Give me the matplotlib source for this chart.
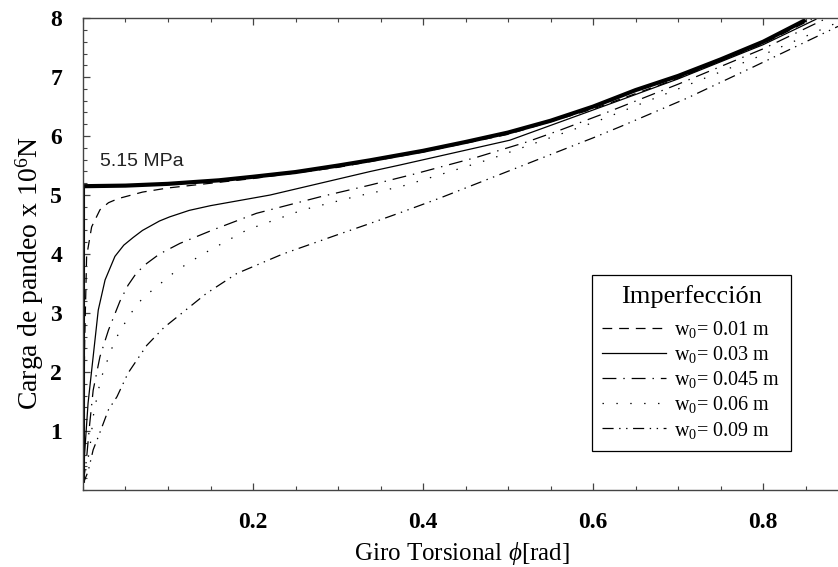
import matplotlib
matplotlib.use("Agg")
import matplotlib.pyplot as plt
from matplotlib.ticker import MultipleLocator, FixedLocator

plt.rcParams['font.family'] = ['Liberation Serif', 'DejaVu Serif']
plt.rcParams['mathtext.fontset'] = 'custom'
plt.rcParams['mathtext.rm'] = 'Liberation Serif'
plt.rcParams['mathtext.it'] = 'Liberation Serif:italic'
plt.rcParams['lines.scale_dashes'] = False

# Perfect column (no imperfection)
phi_perfect = [0, 0, 0.05, 0.1, 0.16, 0.2, 0.25, 0.3, 0.338, 0.4, 0.45, 0.5, 0.55,
               0.6, 0.65, 0.7, 0.75, 0.8, 0.85]
load_perfect = [0.12, 5.15, 5.16, 5.19, 5.25, 5.31, 5.39, 5.5, 5.59, 5.75, 5.9, 6.06, 6.26,
                6.5, 6.78, 7.02, 7.3, 7.6, 7.97]

# Imperfect columns, initial deflection w0
phi_001 = [0, 0.002, 0.0043, 0.0102, 0.02, 0.03, 0.0415, 0.07, 0.1, 0.15, 0.2, 0.3, 0.4,
           0.5, 0.6, 0.7, 0.8, 0.857]
load_001 = [0.12, 2.5, 3.96, 4.46, 4.75, 4.87, 4.94, 5.05, 5.12, 5.2, 5.28, 5.47, 5.73,
            6.03, 6.46, 6.98, 7.57, 7.98]

phi_003 = [0, 0.002, 0.006, 0.012, 0.018, 0.026, 0.0376, 0.048, 0.059, 0.07, 0.08, 0.09,
           0.102, 0.125, 0.15, 0.22, 0.338, 0.373, 0.502, 0.632, 0.7, 0.8, 0.862]
load_003 = [0.1, 0.63, 1.47, 2.26, 3.05, 3.56, 3.96, 4.15, 4.28, 4.4, 4.48, 4.56,
            4.63, 4.74, 4.82, 5.0, 5.4, 5.51, 5.93, 6.61, 6.97, 7.55, 7.98]

phi_0045 = [0, 0.004, 0.008, 0.012, 0.02, 0.03, 0.0435, 0.053, 0.063, 0.075, 0.09, 0.114,
            0.153, 0.204, 0.279, 0.338, 0.388, 0.463, 0.522, 0.561, 0.616, 0.7, 0.8, 0.872]
load_0045 = [0.1, 0.5, 1.13, 1.69, 2.26, 2.71, 3.2, 3.47, 3.68, 3.84, 4.0, 4.18,
             4.41, 4.69, 4.97, 5.17, 5.35, 5.64, 5.9, 6.1, 6.4, 6.88, 7.48, 7.98]

phi_006 = [0, 0.008, 0.012, 0.018, 0.0237, 0.0376, 0.055, 0.07, 0.087, 0.11, 0.141, 0.193,
           0.259, 0.322, 0.373, 0.412, 0.479, 0.553, 0.608, 0.7, 0.8, 0.888]
load_006 = [0.1, 0.68, 1.24, 1.69, 2.0, 2.54, 2.97, 3.25, 3.45, 3.72, 4.0, 4.41,
            4.75, 4.98, 5.14, 5.31, 5.61, 5.99, 6.27, 6.8, 7.38, 7.93]

phi_009 = [0, 0.006, 0.012, 0.018, 0.03, 0.04, 0.053, 0.075, 0.095, 0.114, 0.145, 0.181,
           0.235, 0.298, 0.338, 0.373, 0.42, 0.51, 0.6, 0.632, 0.71, 0.788, 0.859, 0.888]
load_009 = [0.1, 0.31, 0.68, 0.9, 1.36, 1.58, 1.98, 2.45, 2.75, 2.97, 3.33, 3.67,
            4.0, 4.32, 4.52, 4.7, 4.95, 5.46, 5.97, 6.16, 6.64, 7.17, 7.66, 7.86]

labels = ["w$_0$= 0.01 m", "w$_0$= 0.03 m", "w$_0$= 0.045 m", "w$_0$= 0.06 m", "w$_0$= 0.09 m"]
xticks = [0.2, 0.4, 0.6, 0.8]
yticks = [1, 2, 3, 4, 5, 6, 7, 8]

fig = plt.figure(figsize=(8.38, 5.67), dpi=100)
ax = fig.add_axes([0.099, 0.136, 0.901, 0.832])

ax.plot(phi_perfect, load_perfect, color="black", lw=3.0, solid_capstyle="butt")
ax.plot(phi_001, load_001, color="black", lw=0.9, linestyle=(0, (7, 5)), label=labels[0])
ax.plot(phi_003, load_003, color="black", lw=0.9, linestyle="-", label=labels[1])
ax.plot(phi_0045, load_0045, color="black", lw=0.9, linestyle=(0, (10, 5, 1, 5)), label=labels[2])
ax.plot(phi_006, load_006, color="black", lw=0.9, linestyle=(0, (1, 9)), label=labels[3])
ax.plot(phi_009, load_009, color="black", lw=0.9, linestyle=(0, (8, 4, 1, 4, 1, 4)), label=labels[4])

ax.text(0.02, 5.5, "5.15 MPa", family="Liberation Sans", fontsize=14, color="#222222")

ax.set_xlim(0, 0.888)
ax.set_ylim(0, 8)
ax.xaxis.set_major_locator(FixedLocator(xticks))
ax.yaxis.set_major_locator(FixedLocator(yticks))
ax.xaxis.set_minor_locator(MultipleLocator(0.05))
ax.yaxis.set_minor_locator(MultipleLocator(0.2))
ax.tick_params(which="both", direction="in", top=True, right=False, color="#444444")
ax.tick_params(which="major", length=5, width=0.9, labelsize=17)
ax.tick_params(which="minor", length=3, width=0.8)
ax.tick_params(axis="x", pad=16)
ax.tick_params(axis="y", pad=15)
for lab in ax.get_xticklabels() + ax.get_yticklabels():
    lab.set_fontweight("bold")

ax.spines["right"].set_visible(False)
for side in ["left", "bottom", "top"]:
    ax.spines[side].set_color("#444444")
    ax.spines[side].set_linewidth(1.0)

ax.set_xlabel("Giro Torsional $\\phi$[rad]", fontsize=18)
ax.set_ylabel("Carga de pandeo x 10$^6$N", fontsize=20)
ax.xaxis.set_label_coords(0.502, -0.106)
ax.yaxis.set_label_coords(-0.049, 0.46)

leg = ax.legend(title="Imperfección", loc="upper left", bbox_to_anchor=(0.674, 0.455),
                borderaxespad=0, fontsize=14.5, title_fontsize=19, fancybox=False,
                edgecolor="black", framealpha=1, handlelength=3.2, handletextpad=0.4,
                labelspacing=0.2, borderpad=0.5)
leg.get_frame().set_linewidth(0.9)
leg._legend_box.sep = 8

plt.savefig("out.png", dpi=100)
